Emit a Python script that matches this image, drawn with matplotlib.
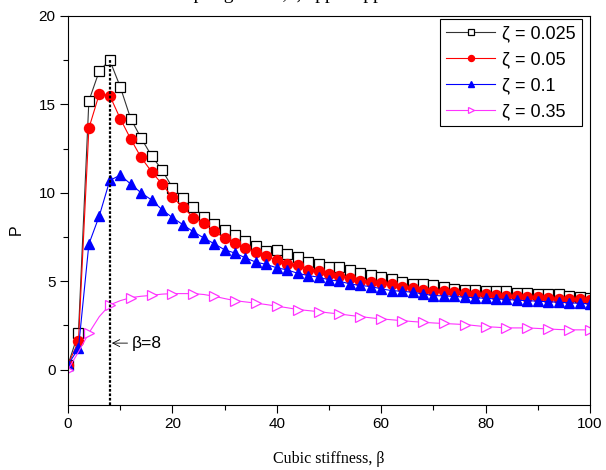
import numpy as np
import matplotlib
matplotlib.use('Agg')
import matplotlib.pyplot as plt
from matplotlib.ticker import MultipleLocator

# cubic stiffness grid (step 2)
beta = np.arange(0, 101, 2)

p_0025 = [0.28, 2.07, 15.2, 16.9, 17.5, 16.0, 14.2, 13.1, 12.1, 11.3,
          10.3, 9.7, 9.2, 8.66, 8.25, 7.91, 7.59, 7.30, 6.98, 6.72,
          6.74, 6.55, 6.36, 6.06, 5.98, 5.79, 5.79, 5.61, 5.47, 5.38,
          5.23, 5.13, 4.94, 4.85, 4.87, 4.76, 4.66, 4.57, 4.53, 4.51,
          4.47, 4.47, 4.42, 4.34, 4.32, 4.28, 4.25, 4.25, 4.19, 4.09, 4.06]

p_005 = [0.28, 1.6, 13.65, 15.6, 15.5, 14.2, 13.05, 12.0, 11.2, 10.5,
         9.75, 9.2, 8.6, 8.29, 7.83, 7.45, 7.15, 6.89, 6.64, 6.40,
         6.21, 5.98, 5.89, 5.66, 5.57, 5.42, 5.32, 5.19, 5.04, 4.98,
         4.89, 4.85, 4.70, 4.62, 4.51, 4.46, 4.43, 4.37, 4.33, 4.30,
         4.27, 4.22, 4.18, 4.15, 4.12, 4.08, 4.05, 4.02, 4.00, 3.97, 3.95]

p_01 = [0.28, 1.2, 7.1, 8.7, 10.7, 11.0, 10.5, 10.0, 9.6, 9.05,
        8.6, 8.2, 7.8, 7.45, 7.12, 6.78, 6.59, 6.32, 6.08, 5.95,
        5.76, 5.64, 5.45, 5.32, 5.23, 5.08, 5.00, 4.85, 4.76, 4.70,
        4.57, 4.47, 4.43, 4.38, 4.28, 4.19, 4.17, 4.14, 4.10, 4.07,
        4.03, 4.00, 3.97, 3.93, 3.90, 3.87, 3.84, 3.81, 3.78, 3.75, 3.72]

p_035 = [0.0, 1.0, 2.07, 3.0, 3.66, 3.9, 4.07, 4.15, 4.2, 4.27,
         4.3, 4.3, 4.3, 4.25, 4.15, 4.02, 3.9, 3.83, 3.76, 3.68,
         3.59, 3.5, 3.4, 3.34, 3.28, 3.21, 3.15, 3.07, 3.0, 2.93,
         2.87, 2.82, 2.77, 2.72, 2.68, 2.64, 2.61, 2.58, 2.55, 2.49,
         2.43, 2.4, 2.36, 2.36, 2.36, 2.33, 2.3, 2.27, 2.25, 2.25, 2.25]

labels = ['ζ = 0.025', 'ζ = 0.05', 'ζ = 0.1', 'ζ = 0.35']
beta_mark = 8

sans = 'Liberation Sans'
serif = 'Liberation Serif'

fig = plt.figure(figsize=(6.06, 4.70), dpi=100)
ax = fig.add_axes([68/606, 1-405/470, 522/606, 389/470])

ax.plot(beta, p_0025, color='#333333', lw=0.8, marker='s', ms=6.8,
        mfc='white', mec='black', mew=0.9, label=labels[0])
ax.plot(beta, p_005, color='red', lw=0.8, marker='o', ms=7.2,
        mfc='red', mec='red', label=labels[1])
ax.plot(beta, p_01, color='blue', lw=0.8, marker='^', ms=7.4,
        mfc='blue', mec='blue', label=labels[2])
ax.plot(beta, p_035, color='#ff33ff', lw=0.8, marker='>', ms=7.4,
        mfc='white', mec='#ff33ff', mew=0.9, markevery=2, label=labels[3])

# dotted marker line at beta = 8
peak = p_0025[list(beta).index(beta_mark)]
ax.vlines(beta_mark, -2, peak, colors='black', lw=1.6,
          linestyles=(0, (1.2, 0.8)), zorder=5)
ax.annotate('β=8', xy=(beta_mark + 0.4, 1.5), xytext=(12.2, 1.5),
            ha='left', va='center', fontsize=12.5, family=sans,
            arrowprops=dict(arrowstyle='->', lw=0.6, color='black',
                            shrinkA=1, shrinkB=0))

ax.set_xlim(0, 100)
ax.set_ylim(-2, 20)
ax.xaxis.set_major_locator(MultipleLocator(20))
ax.xaxis.set_minor_locator(MultipleLocator(10))
ax.yaxis.set_major_locator(MultipleLocator(5))
ax.yaxis.set_minor_locator(MultipleLocator(2.5))
ax.tick_params(which='both', direction='out', top=False, right=False,
               width=0.8, labelsize=11, pad=3)
ax.tick_params(which='major', length=6)
ax.tick_params(which='minor', length=3.5)
for lab in ax.get_xticklabels() + ax.get_yticklabels():
    lab.set_family(sans)
for s in ax.spines.values():
    s.set_linewidth(0.8)

ax.set_xlabel('Cubic stiffness, β', family=serif, fontsize=11.5, labelpad=14)
ax.set_ylabel('P', family=sans, fontsize=11.5, labelpad=14)
ax.yaxis.set_label_coords(-0.085, 0.45)

leg = ax.legend(loc='upper right', bbox_to_anchor=(0.985, 0.993),
                borderaxespad=0, fancybox=False, framealpha=1,
                edgecolor='black', handlelength=2.7, labelspacing=0.5,
                prop={'family': sans, 'size': 13}, borderpad=0.35,
                handletextpad=0.4, markerscale=0.6)
leg.get_frame().set_linewidth(0.8)

# title cut off at the top of the picture
fig.text(0.485, 1.0 + 1/470, 'Coupling effect, ζ upper approach', ha='center',
         va='baseline', family=serif, fontsize=14)

fig.savefig('out.png', dpi=100)
